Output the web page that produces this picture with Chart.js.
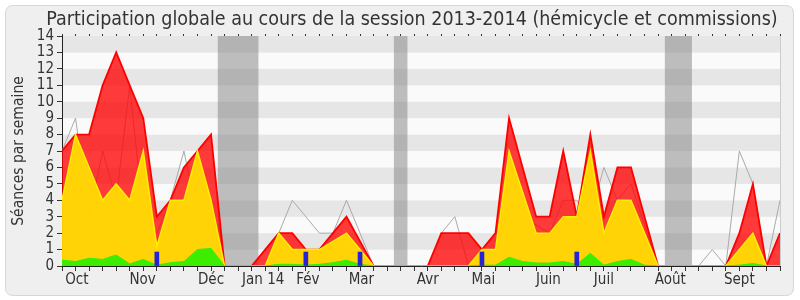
<!DOCTYPE html>
<html><head><meta charset="utf-8">
<script src="https://cdn.jsdelivr.net/npm/chart.js@4.4.1/dist/chart.umd.min.js"></script>
<style>html,body{margin:0;padding:0;background:#fff;}#wrap{width:800px;height:300px;}</style>
</head><body><div id="wrap"><canvas id="c" width="800" height="300"></canvas></div>
<script>
const weeks = [0,1,2,3,4,5,6,7,8,9,10,11,12,13,14,15,16,17,18,19,20,21,22,23,24,25,26,
  27,28,29,30,31,32,33,34,35,36,37,38,39,40,41,42,43,44,45,46,47,48,49,50,51,52,53];
const presence = [7,8,8,11,13,11,9,3,4,6,7,8,0,0,0,1,2,2,1,1,2,3,1.5,0,0,0,0,
  0,2,2,2,1,2,9,6,3,3,7,3,8,3,6,6,3,0,0,0,0,0,0,2,5,0,2];
const participation = [4,8,6,4,5,4,7,1.2,4,4,7,4,0,0,0,0,2,1,1,1,1.5,2,1,0,0,0,0,
  0,0,0,0,1,1,7,4.5,2,2,3,3,7,2,4,4,2,0,0,0,0,0,0,1,2,0,0];
const interventions = [0.36,0.27,0.47,0.4,0.67,0.12,0.4,0.05,0.2,0.27,1.0,1.07,0,0,0,0,0.1,0.1,0.05,0.1,0.2,0.35,0.1,0,0,0,0,
  0,0,0,0,0.05,0.05,0.53,0.27,0.18,0.18,0.27,0.1,0.77,0.05,0.27,0.4,0.05,0,0,0,0,0,0,0.05,0.15,0,0];
const mediane = [7,9,3,7,4,11,3,2,4,7,3,2,0,0,0,1,2,4,3,2,2,4,2,0,0,0,0,
  0,2,3,0,1,2,3,3,2.5,2,4,4,3,6,4,5,2.5,0,0,0,0,1,0,7,5,0,4];
const questionWeeks = [7,18,22,31,38];
const questionValues = [0.85,0.85,0.85,0.85,0.85];
const monthLabels = ['Oct','Nov','Déc','Jan 14','Fév','Mar','Avr','Mai','Juin','Juil','Août','Sept'];
const monthPos = [1.1,5.95,11,14.85,18.15,22.1,27,31.1,35.9,40,44.9,50];
const holidays = [[11.5,14.5],[24.5,25.5],[44.5,46.5]];
const yTicks = [0,1,2,3,4,5,6,7,8,9,10,11,12,13,14];

const FONT = "'DejaVu Sans Condensed','Liberation Sans Narrow','DejaVu Sans',sans-serif";
const pts = arr => weeks.map((w,i)=>({x:w,y:arr[i]}));

function rr(ctx,x,y,w,h,r){ctx.beginPath();ctx.moveTo(x+r,y);ctx.lineTo(x+w-r,y);ctx.quadraticCurveTo(x+w,y,x+w,y+r);
 ctx.lineTo(x+w,y+h-r);ctx.quadraticCurveTo(x+w,y+h,x+w-r,y+h);ctx.lineTo(x+r,y+h);ctx.quadraticCurveTo(x,y+h,x,y+h-r);
 ctx.lineTo(x,y+r);ctx.quadraticCurveTo(x,y,x+r,y);ctx.closePath();}

const bgPlugin = {
  id:'bg',
  afterLayout(chart){
    if(chart.titleBlock){chart.titleBlock.left=44;chart.titleBlock.right=780;chart.titleBlock.width=736;}
  },
  beforeDraw(chart){
    const {ctx, chartArea:a, scales:{x,y}} = chart;
    ctx.save();
    ctx.fillStyle='#fff';ctx.fillRect(0,0,800,300);
    rr(ctx,5.5,5.5,788,290,8);ctx.fillStyle='#efefef';ctx.fill();ctx.strokeStyle='#d6d6d6';ctx.lineWidth=1;ctx.stroke();
    for(let k=0;k<yTicks.length-1;k++){
      const y0=y.getPixelForValue(yTicks[k]), y1=y.getPixelForValue(yTicks[k+1]);
      ctx.fillStyle = (k%2)?'#e6e6e6':'#fafafa';
      ctx.fillRect(a.left,y1,a.right-a.left,y0-y1);
    }
    ctx.fillStyle='rgba(128,128,128,0.5)';
    holidays.forEach(([s,e])=>{const x0=x.getPixelForValue(s),x1=x.getPixelForValue(e);ctx.fillRect(x0,a.top,x1-x0,a.bottom-a.top);});
    ctx.strokeStyle='#cccccc';ctx.beginPath();ctx.moveTo(a.right+0.5,a.top);ctx.lineTo(a.right+0.5,a.bottom);ctx.stroke();
    ctx.restore();
  }
};

new Chart(document.getElementById('c'),{
  type:'line',
  data:{datasets:[
    {type:'bar',data:questionWeeks.map((w,i)=>({x:w,y:questionValues[i]})),backgroundColor:'#2323d8',barThickness:4,order:0},
    {data:pts(interventions),borderColor:'#33ee00',backgroundColor:'rgba(51,238,0,0.95)',borderWidth:1,fill:'origin',pointRadius:0,tension:0,order:1},
    {data:pts(participation),borderColor:'#ffee00',backgroundColor:'rgba(255,228,0,0.9)',borderWidth:1.5,fill:'origin',pointRadius:0,tension:0,order:2},
    {data:pts(presence),borderColor:'#ff0000',backgroundColor:'rgba(255,0,0,0.77)',borderWidth:1.8,fill:'origin',pointRadius:0,tension:0,order:3},
    {data:pts(mediane),borderColor:'#aaaaaa',borderWidth:1,fill:false,pointRadius:0,tension:0,order:4}
  ]},
  options:{
    responsive:false,animation:false,devicePixelRatio:1,
    layout:{padding:{left:0,right:20,top:0,bottom:0}},
    plugins:{
      legend:{display:false},tooltip:{enabled:false},
      title:{display:true,text:'Participation globale au cours de la session 2013-2014 (hémicycle et commissions)',
        color:'#333',font:{family:FONT,size:19.5,weight:'normal',lineHeight:1.2},padding:{top:8.6,bottom:4}}
    },
    scales:{
      x:{type:'linear',min:0,max:53,position:'bottom',offset:false,
        afterBuildTicks(s){const t=weeks.map(v=>({value:v}));monthPos.forEach(p=>{if(!weeks.includes(p))t.push({value:p});});t.sort((a,b)=>a.value-b.value);s.ticks=t;},
        afterFit(s){s.height=34;},
        grid:{drawOnChartArea:false,drawTicks:true,tickLength:5,color:'#333',offset:false,
          tickColor:c=>(c&&c.tick&&!Number.isInteger(c.tick.value))?'rgba(0,0,0,0)':'#333'},
        border:{display:true,color:'#222',width:1},
        ticks:{autoSkip:false,maxRotation:0,minRotation:0,padding:0,color:'#333',font:{family:FONT,size:15},
          callback:v=>{const i=monthPos.indexOf(v);return i>=0?monthLabels[i]:'';}}
      },
      x2:{type:'linear',min:0,max:53,position:'top',offset:false,
        afterBuildTicks(s){s.ticks=weeks.map(v=>({value:v}));},
        afterFit(s){s.height=0;},
        grid:{drawOnChartArea:false,drawTicks:true,tickLength:2,tickColor:'#333',offset:false},
        border:{display:false},ticks:{display:false}
      },
      y:{type:'linear',min:0,max:14,
        afterBuildTicks(s){s.ticks=yTicks.map(v=>({value:v}));},
        afterFit(s){s.width=62;},
        grid:{drawOnChartArea:false,drawTicks:true,tickLength:5,tickColor:'#333'},
        border:{display:true,color:'#222',width:1},
        ticks:{autoSkip:false,padding:3,color:'#333',font:{family:FONT,size:15}},
        title:{display:true,text:'Séances par semaine',color:'#333',font:{family:FONT,size:15.5},padding:{top:10,bottom:0}}
      }
    }
  },
  plugins:[bgPlugin]
});
</script></body></html>
